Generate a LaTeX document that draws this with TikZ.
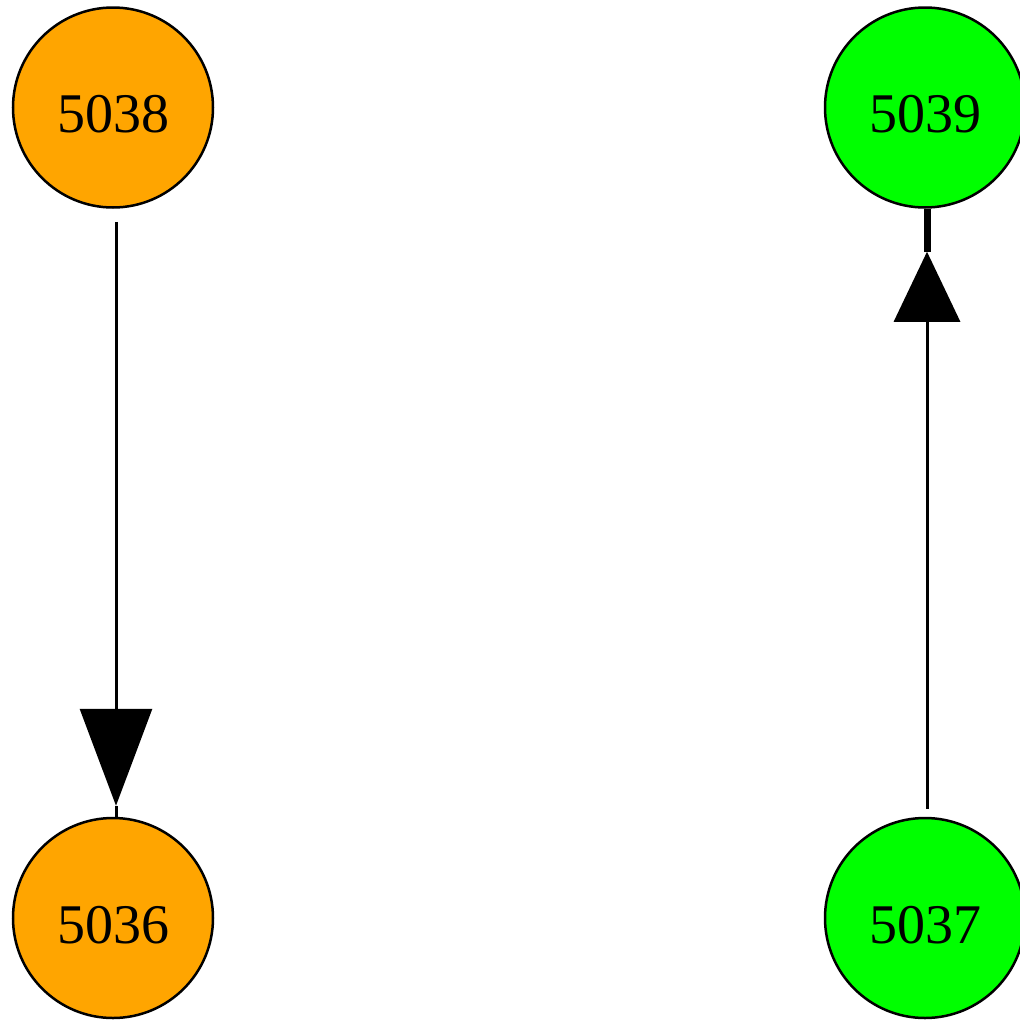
\documentclass[tikz,border=0pt]{standalone}
\usepackage{fontspec}
\setmainfont{Liberation Serif}
\usetikzlibrary{arrows.meta,calc}
\definecolor{nodeorange}{HTML}{FFA500}
\definecolor{nodegreen}{HTML}{00FF00}
\begin{document}
\begin{tikzpicture}[x=1pt,y=-1pt,
  vertex/.style={circle,draw=black,line width=2.5pt,minimum size=200pt,inner sep=0pt,
    text height=50pt,text depth=0pt,
    font=\fontsize{56}{56}\selectfont},
  edge/.style={line width=3pt}]
\useasboundingbox (0,0) rectangle (1020,1023);
% nodes
\node[vertex,fill=nodeorange] (n5038) at (113,107.5) {5038};
\node[vertex,fill=nodeorange] (n5036) at (113,918) {5036};
\node[vertex,fill=nodegreen]  (n5039) at (925,107.5) {5039};
\node[vertex,fill=nodegreen]  (n5037) at (925,918) {5037};
% 5038 -> 5036
\draw[edge,shorten <=13pt,shorten >=11pt,-{Triangle[length=97pt,width=72pt]}]
  ([xshift=3pt]n5038.south) -- ([xshift=3pt]n5036.north);
\draw[edge] ([xshift=3pt]$(n5036.north)+(0,-11)$) -- ([xshift=3pt]n5036.north);
% 5037 -> 5039
\draw[edge,shorten <=8pt,shorten >=43pt,-{Triangle[length=70pt,width=66pt]}]
  ([xshift=2pt]n5037.north) -- ([xshift=2pt]n5039.south);
\draw[line width=7pt] ([xshift=2pt]n5039.south) -- ([xshift=2pt]$(n5039.south)+(0,43)$);
\end{tikzpicture}
\end{document}
